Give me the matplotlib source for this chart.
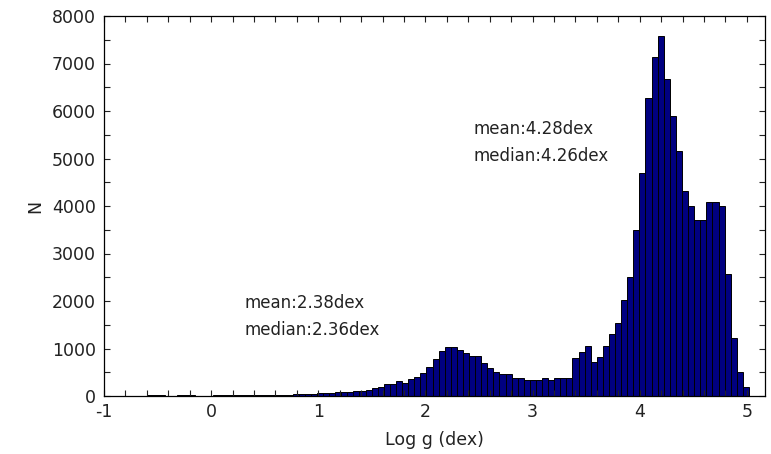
import numpy as np
import matplotlib
matplotlib.use('Agg')
from matplotlib import pyplot as plt
from matplotlib.ticker import MultipleLocator

matplotlib.rcParams['font.family'] = 'DejaVu Sans'
matplotlib.rcParams['axes.unicode_minus'] = False

# histogram of log g, 100 bins between the data limits
bin_lo, bin_hi = -0.66, 5.02
counts = [
    10, 25, 28, 20, 10, 8, 12, 15, 12, 10,
    8, 10, 12, 12, 14, 15, 15, 18, 20, 20,
    22, 25, 25, 28, 30, 35, 35, 40, 40, 56,
    56, 65, 84, 84, 84, 112, 112, 130, 161, 200,
    246, 246, 316, 281, 351, 407, 491, 617, 779, 954,
    1038, 1038, 968, 898, 842, 842, 688, 583, 512, 463,
    463, 372, 372, 337, 337, 337, 385, 337, 372, 372,
    372, 793, 933, 1053, 722, 815, 1050, 1310, 1537, 2021,
    2505, 3494, 4694, 6273, 7136, 7579, 6673, 5894, 5157, 4315,
    4000, 3705, 3705, 4077, 4077, 4000, 2568, 1215, 512, 196,
]
stats = [
    (2.38, 2.36),   # low-gravity group
    (4.28, 4.26),   # dwarfs
]
text_pos = [(0.31, 2140), (2.45, 5800)]

edges = np.linspace(bin_lo, bin_hi, len(counts) + 1)

fig = plt.figure(figsize=(7.71, 4.54), dpi=100)
ax = fig.add_axes([104 / 771, 1 - 396 / 454, 661 / 771, 380 / 454])

ax.bar(edges[:-1], counts, width=np.diff(edges), align='edge',
       color='#000080', edgecolor='black', linewidth=0.7)

for (mean, median), (tx, ty) in zip(stats, text_pos):
    ax.text(tx, ty, 'mean:%.2fdex\nmedian:%.2fdex' % (mean, median),
            fontsize=12, color='#222222', linespacing=1.6, va='top')

ax.set_xlim(-1, 5.17)
ax.set_ylim(0, 8000)
ax.xaxis.set_major_locator(MultipleLocator(1))
ax.xaxis.set_minor_locator(MultipleLocator(0.2))
ax.yaxis.set_major_locator(MultipleLocator(1000))
ax.yaxis.set_minor_locator(MultipleLocator(500))
ax.tick_params(which='both', direction='in', top=True, right=True,
               length=4, width=0.8, labelsize=12.5, colors='#222222')
ax.tick_params(axis='x', pad=5)
ax.tick_params(axis='y', pad=6)
for sp in ax.spines.values():
    sp.set_linewidth(0.9)

ax.set_xlabel('Log g (dex)', fontsize=12.5, color='#222222', labelpad=7)
ax.set_ylabel('N', fontsize=12.5, color='#222222', labelpad=5)

fig.savefig('out.png', dpi=100)
